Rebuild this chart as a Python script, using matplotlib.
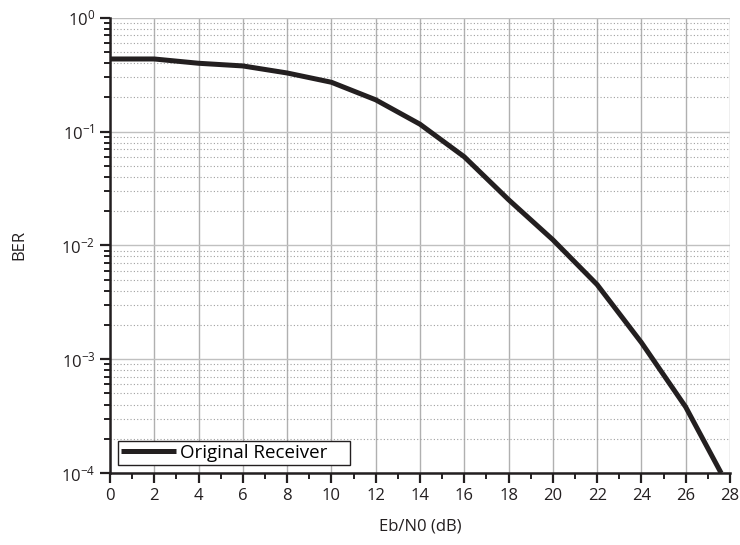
import matplotlib
matplotlib.use("Agg")
import matplotlib.pyplot as plt
from matplotlib.ticker import LogLocator, MultipleLocator, NullFormatter

plt.rcParams['font.family'] = ['Open Sans', 'DejaVu Sans']
plt.rcParams['mathtext.fontset'] = 'custom'
plt.rcParams['mathtext.rm'] = 'Open Sans'
plt.rcParams['mathtext.it'] = 'Open Sans'
plt.rcParams['mathtext.bf'] = 'Open Sans'

ebn0 = [0, 2, 4, 6, 8, 10, 12, 14, 16, 18, 20, 22, 24, 26, 27.6]
ber = [0.434, 0.434, 0.398, 0.377, 0.327, 0.271, 0.190, 0.116, 0.060,
       0.0252, 0.0112, 0.00452, 0.0014, 0.00038, 0.0001]
series_label = "Original Receiver"
xlabel = "Eb/N0 (dB)"
ylabel = "BER"

fig = plt.figure(figsize=(7.4, 5.45), dpi=100)
ax = fig.add_axes([0.1486, 0.132, 0.9865 - 0.1486, 0.9675 - 0.132])

ax.plot(ebn0, ber, color='#231f20', lw=3.6, label=series_label + "    ",
        solid_capstyle='butt', zorder=3)
ax.set_yscale('log')
ax.set_xlim(0, 28)
ax.set_ylim(1e-4, 1)

ax.xaxis.set_major_locator(MultipleLocator(2))
ax.xaxis.set_minor_locator(MultipleLocator(1))
ax.yaxis.set_major_locator(LogLocator(base=10, numticks=10))
ax.yaxis.set_minor_locator(LogLocator(base=10, subs=range(2, 10), numticks=10))
ax.yaxis.set_minor_formatter(NullFormatter())

ax.grid(True, which='major', axis='x', color='#b0b0b0', lw=1.0, ls='-')
ax.grid(True, which='major', axis='y', color='#c0c0c0', lw=1.0, ls='-')
ax.grid(True, which='minor', axis='y', color='#a0a0a0', lw=0.8, ls=(0, (1, 2)))
ax.set_axisbelow(True)

for s in ['top', 'right']:
    ax.spines[s].set_visible(False)
for s in ['left', 'bottom']:
    ax.spines[s].set_linewidth(1.8)
    ax.spines[s].set_color('#231f20')

ax.tick_params(which='major', length=7, width=1.6, color='#231f20',
               labelsize=12, labelcolor='#231f20', direction='out')
ax.tick_params(which='minor', length=4.5, width=1.4, color='#231f20', direction='out')

ax.set_xlabel(xlabel, fontsize=12, color='#231f20', labelpad=11)
ax.set_ylabel(ylabel, fontsize=12, color='#231f20', labelpad=24)

leg = ax.legend(loc='lower left', fontsize=13.5, frameon=True, fancybox=False,
                edgecolor='#231f20', framealpha=1, borderpad=0.15,
                handlelength=2.9, handletextpad=0.25, borderaxespad=0.45)
leg.get_frame().set_linewidth(1.0)

fig.savefig('out.png', dpi=100)
